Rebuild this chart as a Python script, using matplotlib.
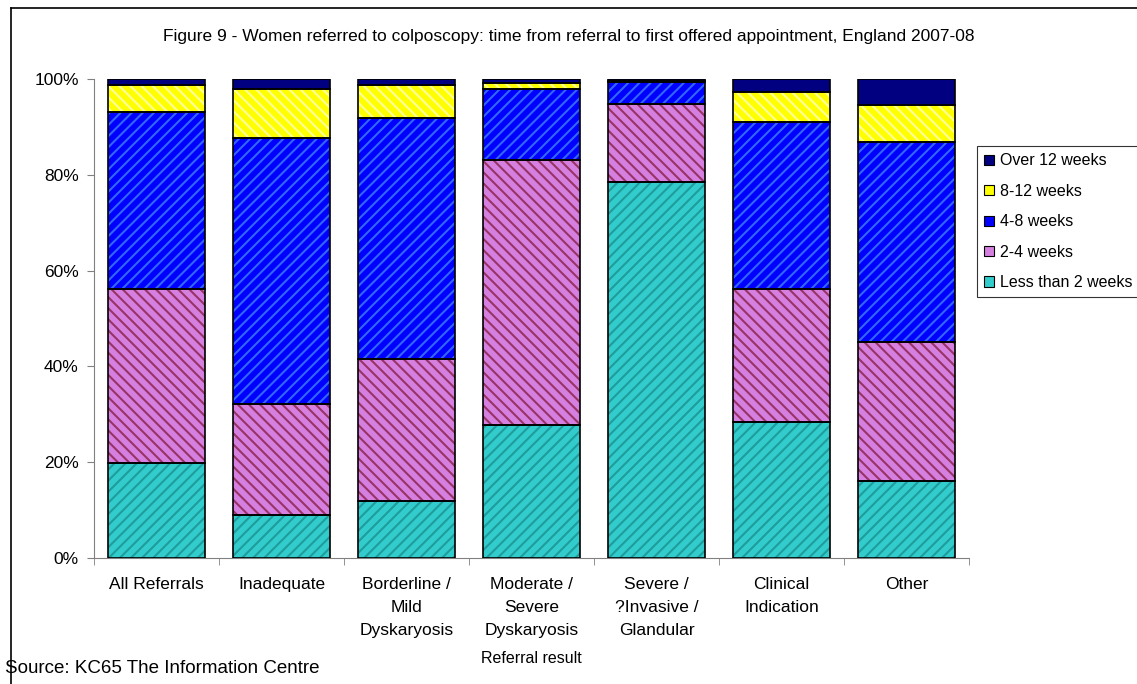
import matplotlib
matplotlib.use('Agg')
import matplotlib.pyplot as plt
from matplotlib.patches import Patch
from matplotlib.lines import Line2D
import numpy as np

plt.rcParams['font.family'] = ['Liberation Sans', 'DejaVu Sans']
plt.rcParams['hatch.linewidth'] = 1.5

# referral result categories
categories = ['All Referrals', 'Inadequate', 'Borderline /\nMild\nDyskaryosis',
              'Moderate /\nSevere\nDyskaryosis', 'Severe /\n?Invasive /\nGlandular',
              'Clinical\nIndication', 'Other']

# percentage of women in each waiting band
less_2 = [19.8, 9.0, 11.9, 27.8, 78.5, 28.4, 16.1]
w2_4 = [36.3, 23.2, 29.6, 55.3, 16.2, 27.8, 29.0]
w4_8 = [37.1, 55.5, 50.4, 14.8, 4.6, 34.8, 41.7]
w8_12 = [5.5, 10.3, 6.8, 1.3, 0.3, 6.3, 7.8]
over_12 = [1.3, 2.0, 1.3, 0.8, 0.4, 2.7, 5.4]

series = [
    ('Less than 2 weeks', less_2, '#33CCCC', '#1F9C9C', '///'),
    ('2-4 weeks', w2_4, '#D580E0', '#993366', '\\\\\\'),
    ('4-8 weeks', w4_8, '#0000FF', '#3366FF', '///'),
    ('8-12 weeks', w8_12, '#FFFF00', '#FFFF99', '\\\\\\'),
    ('Over 12 weeks', over_12, '#000080', '#000080', None),
]

fig = plt.figure(figsize=(11.37, 6.84), dpi=100)
ax = fig.add_axes([0.0827, 0.1842, 0.7695, 0.7003])

x = np.arange(len(categories))
width = 0.77
bottom = np.zeros(len(categories))
handles = []
for name, vals, face, stripe, hatch in series:
    vals = np.array(vals)
    ax.bar(x, vals, width, bottom=bottom, color=face, edgecolor=stripe,
           hatch=hatch, linewidth=0, zorder=2)
    ax.bar(x, vals, width, bottom=bottom, fill=False, edgecolor='black',
           linewidth=1.2, zorder=3)
    bottom += vals
    handles.append(Patch(facecolor=face, edgecolor='black', linewidth=0.8, label=name))

ax.set_xlim(-0.5, len(categories) - 0.5)
ax.set_ylim(0, 100)
ax.set_yticks([0, 20, 40, 60, 80, 100])
ax.set_yticklabels(['0%', '20%', '40%', '60%', '80%', '100%'], fontsize=12.5)
ax.set_xticks(x)
ax.set_xticklabels(categories, fontsize=12.5, linespacing=1.65)
ax.set_xticks(np.arange(-0.5, len(categories)), minor=True)
ax.tick_params(axis='x', which='major', length=0, pad=14)
ax.tick_params(axis='x', which='minor', length=5, color='#808080')
ax.tick_params(axis='y', length=5, color='#808080', pad=6)
for side in ['top', 'right']:
    ax.spines[side].set_visible(False)
for side in ['left', 'bottom']:
    ax.spines[side].set_color('#808080')
ax.set_xlabel('Referral result', fontsize=11.5, labelpad=9)

leg = fig.legend(handles=handles[::-1], loc='upper left', bbox_to_anchor=(0.8593, 0.7865),
                 borderaxespad=0, fontsize=11.5, frameon=True, fancybox=False,
                 edgecolor='black', handlelength=0.6, handleheight=0.6,
                 handletextpad=0.4, labelspacing=0.97, borderpad=0.45)
leg.get_frame().set_linewidth(0.8)

fig.text(0.5, 0.947, 'Figure 9 - Women referred to colposcopy: time from referral to first offered '
         'appointment, England 2007-08', ha='center', va='center', fontsize=12.5)
fig.text(0.004, 0.023, 'Source: KC65 The Information Centre', ha='left', va='center', fontsize=13.5)

# border round the chart area
fig.add_artist(Line2D([0.0097, 0.0097], [0.0, 0.988], color='black', linewidth=1.2))
fig.add_artist(Line2D([0.0097, 1.0], [0.988, 0.988], color='black', linewidth=1.2))

fig.savefig('out.png', dpi=100)
